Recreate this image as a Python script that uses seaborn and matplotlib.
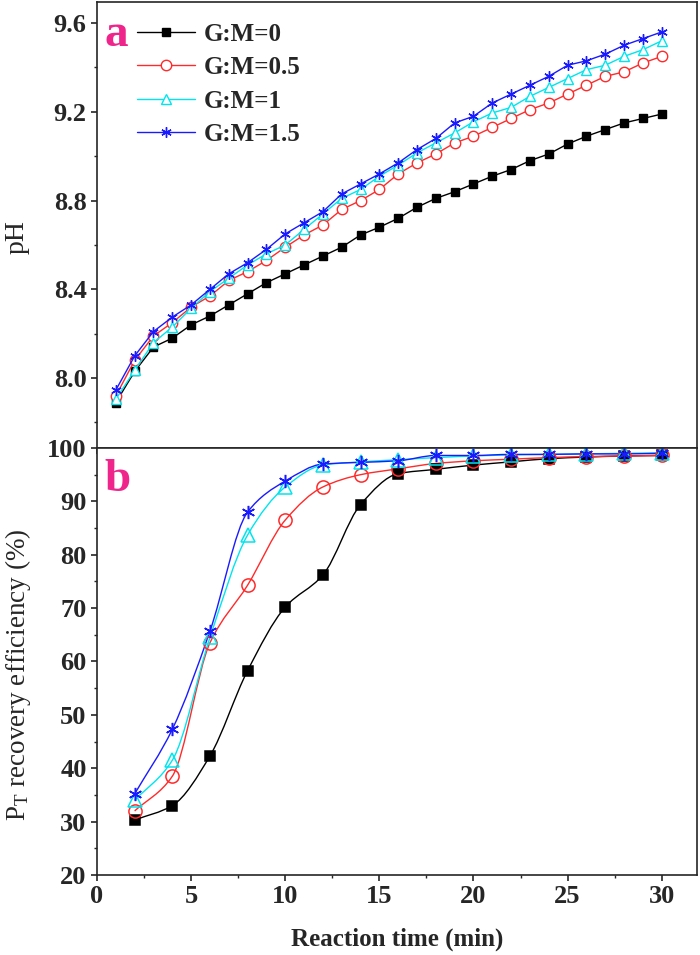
import numpy as np
import matplotlib
matplotlib.use("Agg")
import matplotlib.pyplot as plt
from matplotlib.path import Path
from matplotlib.patches import PathPatch
from matplotlib.ticker import MultipleLocator, FormatStrFormatter
import seaborn as sns

sns.set_style("ticks")
plt.rcParams["font.family"] = ["Liberation Serif", "DejaVu Serif"]
plt.rcParams["mathtext.fontset"] = "custom"
plt.rcParams["mathtext.rm"] = "Liberation Serif"
plt.rcParams["mathtext.it"] = "Liberation Serif:italic"

# ---- data (a): pH vs time ----
time_ph = list(range(1, 31))
ph_0 = [7.89, 8.03, 8.14, 8.18, 8.24, 8.28, 8.33, 8.38, 8.43, 8.47,
        8.51, 8.55, 8.59, 8.645, 8.68, 8.72, 8.77, 8.81, 8.84, 8.875,
        8.91, 8.94, 8.98, 9.01, 9.055, 9.09, 9.12, 9.15, 9.17, 9.19]
ph_05 = [7.92, 8.08, 8.19, 8.25, 8.32, 8.37, 8.44, 8.48, 8.53, 8.59,
         8.645, 8.69, 8.76, 8.80, 8.85, 8.92, 8.97, 9.01, 9.06, 9.09,
         9.13, 9.17, 9.21, 9.24, 9.28, 9.32, 9.36, 9.38, 9.42, 9.45]
ph_1 = [7.905, 8.035, 8.16, 8.23, 8.315, 8.39, 8.45, 8.51, 8.56, 8.60,
        8.67, 8.74, 8.81, 8.85, 8.91, 8.96, 9.015, 9.06, 9.105, 9.155,
        9.195, 9.22, 9.27, 9.31, 9.35, 9.39, 9.41, 9.45, 9.48, 9.52]
ph_15 = [7.946, 8.10, 8.21, 8.275, 8.33, 8.40, 8.47, 8.52, 8.58, 8.65,
         8.70, 8.75, 8.83, 8.875, 8.92, 8.97, 9.03, 9.08, 9.15, 9.18,
         9.24, 9.28, 9.32, 9.36, 9.41, 9.43, 9.46, 9.50, 9.53, 9.56]

# ---- data (b): P_T recovery efficiency vs time ----
time_pt = list(range(2, 31, 2))
pt_0 = [30.3, 33.0, 42.3, 58.3, 70.2, 76.2, 89.4, 95.2, 96.0, 96.8,
        97.4, 98.0, 98.3, 98.5, 98.6]
pt_05 = [32.0, 38.5, 63.5, 74.3, 86.5, 92.7, 95.0, 96.1, 97.1, 97.6,
         97.9, 98.2, 98.4, 98.5, 98.6]
pt_1 = [34.0, 41.5, 64.5, 83.7, 92.7, 96.8, 97.4, 97.8, 98.2, 98.5,
        98.7, 98.8, 98.9, 99.0, 99.1]
pt_15 = [35.2, 47.3, 65.7, 88.0, 93.8, 97.0, 97.3, 97.6, 98.6, 98.6,
         98.8, 98.8, 98.9, 98.9, 99.0]

labels = ["G:M=0", "G:M=0.5", "G:M=1", "G:M=1.5"]
colors = ["black", "#ff2a2a", "#00e5ee", "#1a1aff"]
markers = ["s", "o", "^", (6, 2, 0)]
filled = [True, False, False, True]
pink = "#f0258c"


def smooth_path(x, y):
    # monotone cubic (Hermite) drawn as Bezier segments
    x = np.asarray(x, float)
    y = np.asarray(y, float)
    h = np.diff(x)
    d = np.diff(y) / h
    m = np.empty_like(y)
    m[0], m[-1] = d[0], d[-1]
    for i in range(1, len(y) - 1):
        if d[i - 1] * d[i] <= 0:
            m[i] = 0.0
        else:
            m[i] = 2.0 / (1.0 / d[i - 1] + 1.0 / d[i])
    verts = [(x[0], y[0])]
    codes = [Path.MOVETO]
    for i in range(len(x) - 1):
        verts += [(x[i] + h[i] / 3, y[i] + m[i] * h[i] / 3),
                  (x[i + 1] - h[i] / 3, y[i + 1] - m[i + 1] * h[i] / 3),
                  (x[i + 1], y[i + 1])]
        codes += [Path.CURVE4] * 3
    return Path(verts, codes)


fig = plt.figure(figsize=(7, 9.55), dpi=100)
ax_a = fig.add_axes([0.1386, 0.5309, 0.857, 0.467])
ax_b = fig.add_axes([0.1386, 0.0838, 0.857, 0.4471])

# panel a
for ys, lab, c, mk, f in zip([ph_0, ph_05, ph_1, ph_15], labels, colors, markers, filled):
    sns.lineplot(x=time_ph, y=ys, ax=ax_a, color=c, marker=mk,
                 markersize=7.5 if mk != "s" else 6.3,
                 markerfacecolor=c if f else "white", markeredgecolor=c, markeredgewidth=1.0,
                 linewidth=1.0, label=lab)

# panel b
for ys, c, mk, f in zip([pt_0, pt_05, pt_1, pt_15], colors, markers, filled):
    ax_b.add_patch(PathPatch(smooth_path(time_pt, ys), facecolor="none", edgecolor=c, lw=1.0))
    sns.lineplot(x=time_pt, y=ys, ax=ax_b, color=c, marker=mk, linestyle="",
                 markersize=9.5 if mk != "s" else 7.8,
                 markerfacecolor=c if f else "none", markeredgecolor=c, markeredgewidth=1.1)

for ax in (ax_a, ax_b):
    ax.set_xlim(0, 31.87)
    ax.xaxis.set_major_locator(MultipleLocator(5))
    ax.xaxis.set_minor_locator(MultipleLocator(2.5))
    for s in ax.spines.values():
        s.set_linewidth(1.2)
        s.set_visible(True)
    ax.tick_params(which="major", direction="out", length=4.5, width=1.2,
                   labelsize=19, pad=3, right=False, top=False)
    ax.tick_params(which="minor", direction="out", length=2.5, width=1.0,
                   right=False, top=False)

ax_a.set_ylim(7.685, 9.695)
ax_a.yaxis.set_major_locator(MultipleLocator(0.4))
ax_a.yaxis.set_minor_locator(MultipleLocator(0.2))
ax_a.yaxis.set_major_formatter(FormatStrFormatter("%.1f"))
ax_a.tick_params(labelbottom=False)
ax_a.set_xlabel("")
ax_a.set_ylabel("pH", fontsize=20)
ax_a.yaxis.set_label_coords(-0.112, 0.473)

ax_b.set_ylim(20, 100)
ax_b.yaxis.set_major_locator(MultipleLocator(10))
ax_b.yaxis.set_minor_locator(MultipleLocator(5))
ax_b.set_xlabel("Reaction time (min)", fontsize=18, fontweight="bold", labelpad=14)
ax_b.set_ylabel(r"P$_\mathrm{T}$ recovery efficiency (%)", fontsize=19.5)
ax_b.yaxis.set_label_coords(-0.107, 0.47)

for ax in (ax_a, ax_b):
    for t in ax.get_xticklabels() + ax.get_yticklabels():
        t.set_fontweight("bold")

leg = ax_a.legend(loc="upper left", bbox_to_anchor=(0.05, 0.976), frameon=False,
                  handlelength=2.3, handletextpad=0.35, labelspacing=0.42,
                  borderaxespad=0, prop={"weight": "bold", "size": 18})

ax_a.text(0.013, 0.926, "a", transform=ax_a.transAxes, color=pink, fontsize=34,
          fontweight="bold", va="center", ha="left")
ax_b.text(0.013, 0.925, "b", transform=ax_b.transAxes, color=pink, fontsize=34,
          fontweight="bold", va="center", ha="left")

fig.savefig("out.png", dpi=100)
